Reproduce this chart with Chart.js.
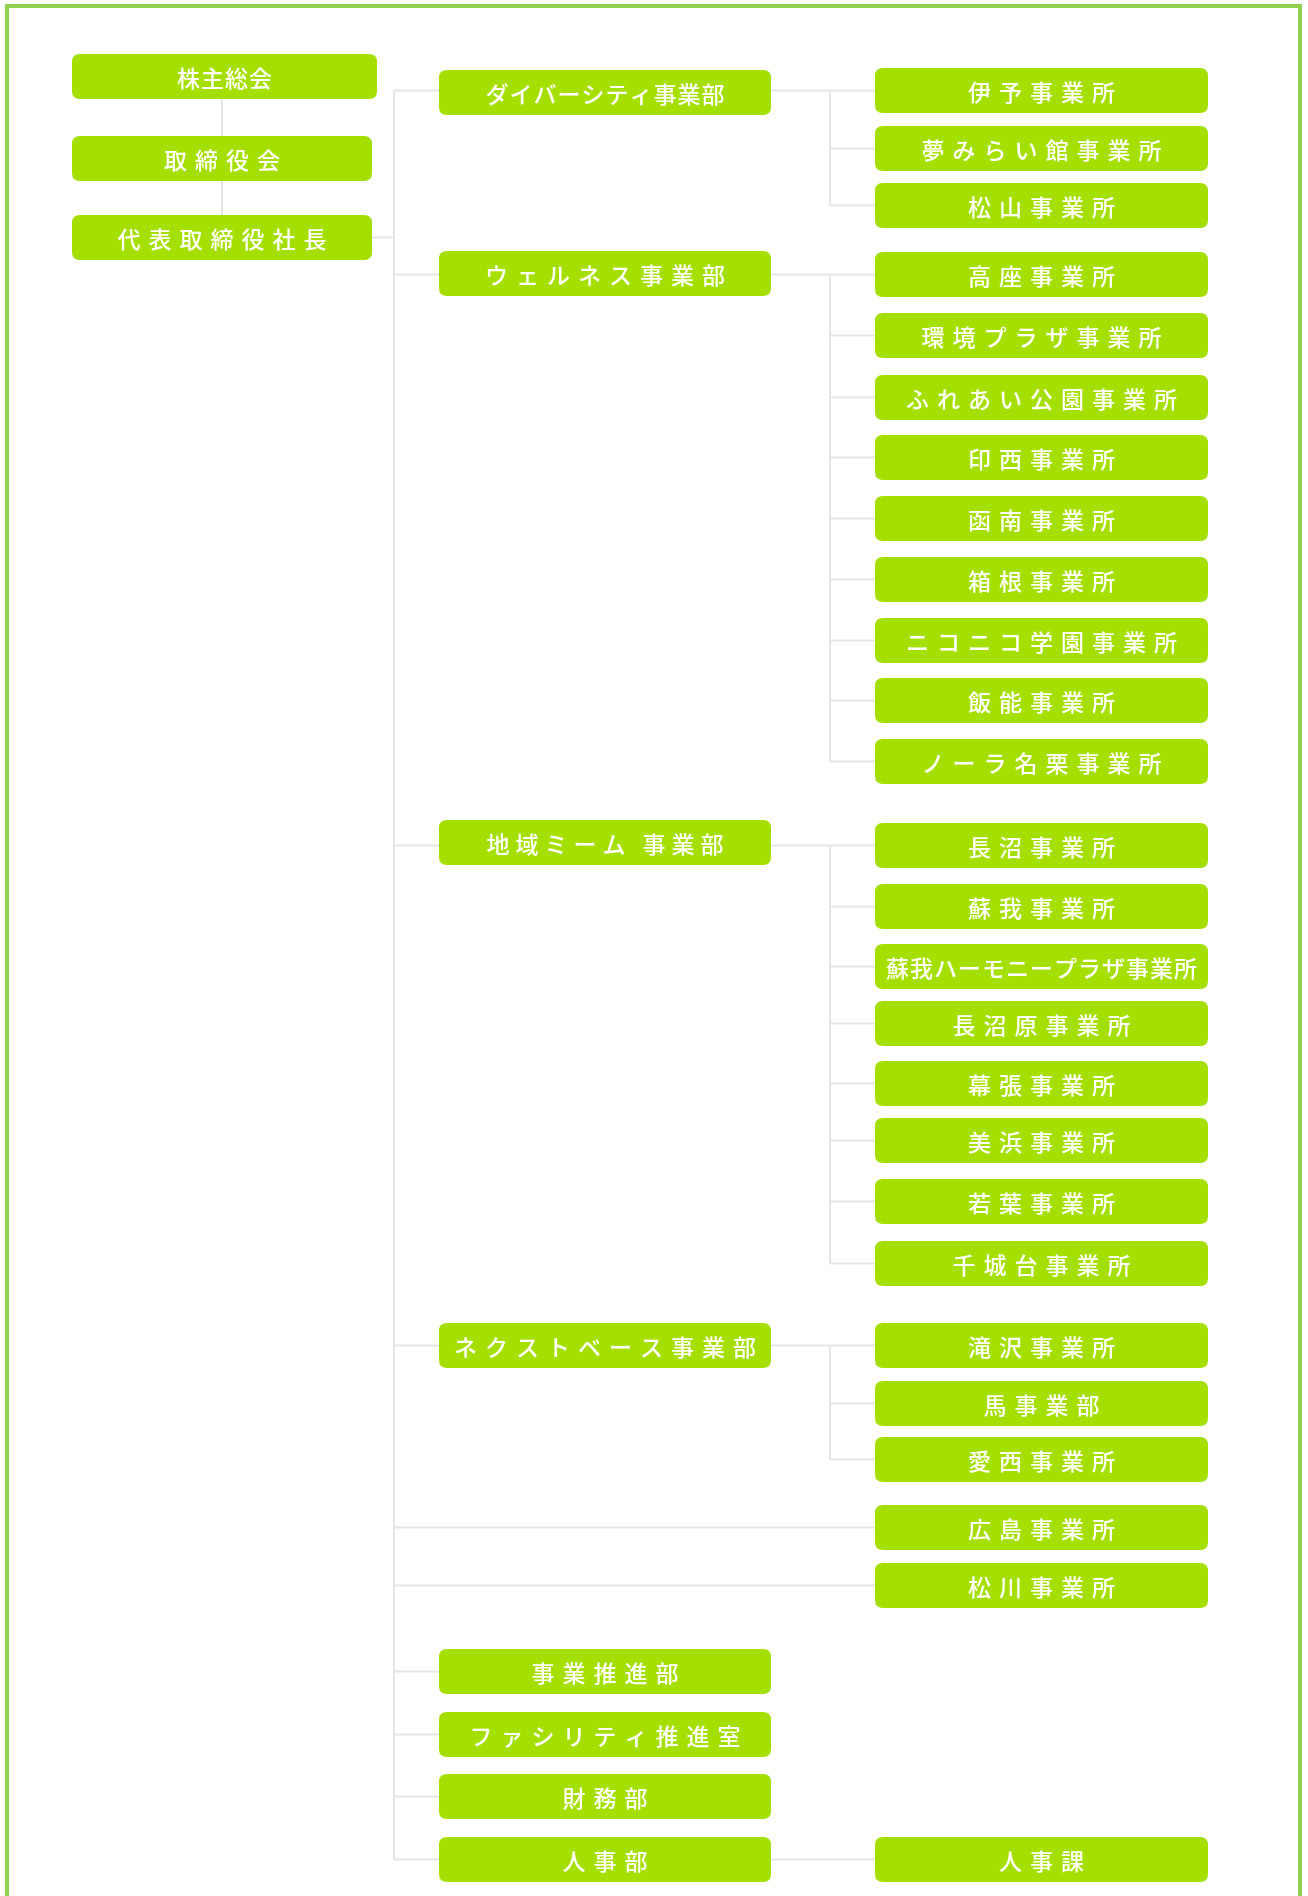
<!DOCTYPE html>
<html lang="ja">
<head>
<meta charset="utf-8">
<title>組織図</title>
<script src="https://cdn.jsdelivr.net/npm/chart.js@4.4.1/dist/chart.umd.min.js"></script>
<style>
  html, body { margin: 0; padding: 0; background: #fff; }
  #wrap { position: relative; width: 1308px; height: 1896px; }
</style>
</head>
<body>
<div id="wrap"><canvas id="org"></canvas></div>
<script>
// ===== 組織図データ
const headNames = ['株主総会', '取締役会', '代表取締役社長'];
const headTops = [54, 136, 215];

const deptNames = ['ダイバーシティ事業部', 'ウェルネス事業部', '地域ミーム 事業部', 'ネクストベース事業部',
  '事業推進部', 'ファシリティ推進室', '財務部', '人事部'];
const deptTops = [70, 251, 820, 1323, 1649, 1712, 1774, 1837];

const officeNames = [
  '伊予事業所', '夢みらい館事業所', '松山事業所',
  '高座事業所', '環境プラザ事業所', 'ふれあい公園事業所', '印西事業所', '函南事業所',
  '箱根事業所', 'ニコニコ学園事業所', '飯能事業所', 'ノーラ名栗事業所',
  '長沼事業所', '蘇我事業所', '蘇我ハーモニープラザ事業所', '長沼原事業所', '幕張事業所',
  '美浜事業所', '若葉事業所', '千城台事業所',
  '滝沢事業所', '馬事業部', '愛西事業所',
  '広島事業所', '松川事業所',
  '人事課'
];
const officeTops = [68, 126, 183, 252, 313, 375, 435, 496, 557, 618, 678, 739,
  823, 884, 944, 1001, 1061, 1118, 1179, 1241, 1323, 1381, 1437, 1505, 1563, 1837];
// 親の部署 (-1 = 社長直轄)
const officeParent = [0, 0, 0, 1, 1, 1, 1, 1, 1, 1, 1, 1, 2, 2, 2, 2, 2, 2, 2, 2, 3, 3, 3, -1, -1, 7];

// 字間を詰めて表示するラベル
const tightNames = ['株主総会', 'ダイバーシティ事業部', '蘇我ハーモニープラザ事業所'];

// ===== レイアウト
const W = 1308, H = 1896;
const BOX_H = 45;
const colLeft = [72, 439, 875];
const colRight = [372, 771, 1208];
const trunkX = 394;
const subX = 830;
const lineColor = '#e6e6e6';
const boxColor = '#a5df00';

function mid(top) { return top + BOX_H / 2; }

function seg(x1, y1, x2, y2) {
  return {
    type: 'line',
    data: [{x: x1, y: y1}, {x: x2, y: y2}],
    borderColor: lineColor,
    borderWidth: 2,
    pointRadius: 0,
    showLine: true,
    fill: false
  };
}

// 接続線
const links = [];
links.push(seg(222, headTops[0] + BOX_H, 222, headTops[2]));
links.push(seg(colRight[0], mid(headTops[2]), trunkX, mid(headTops[2])));

let trunkTop = null, trunkBottom = null;
deptNames.forEach((name, d) => {
  const kids = [];
  officeParent.forEach((p, i) => { if (p === d) kids.push(i); });
  const ly = kids.length ? mid(officeTops[kids[0]]) : mid(deptTops[d]);
  if (trunkTop === null) trunkTop = ly;
  trunkBottom = ly;
  links.push(seg(trunkX, ly, colLeft[1], ly));
  if (kids.length) {
    links.push(seg(colRight[1], ly, colLeft[2], ly));
    if (kids.length > 1) {
      const last = mid(officeTops[kids[kids.length - 1]]);
      links.push(seg(subX, ly, subX, last));
      kids.slice(1).forEach(i => {
        links.push(seg(subX, mid(officeTops[i]), colLeft[2], mid(officeTops[i])));
      });
    }
  }
});
officeParent.forEach((p, i) => {
  if (p === -1) links.push(seg(trunkX, mid(officeTops[i]), colLeft[2], mid(officeTops[i])));
});
links.push(seg(trunkX, trunkTop, trunkX, trunkBottom));

// 箱
const boxes = [];
headNames.forEach((n, i) => boxes.push({name: n, col: 0, top: headTops[i], right: i === 0 ? 377 : colRight[0]}));
deptNames.forEach((n, i) => boxes.push({name: n, col: 1, top: deptTops[i], right: colRight[1]}));
officeNames.forEach((n, i) => boxes.push({name: n, col: 2, top: officeTops[i], right: colRight[2]}));

function roundRect(ctx, x, y, w, h, r) {
  ctx.beginPath();
  ctx.moveTo(x + r, y);
  ctx.lineTo(x + w - r, y);
  ctx.quadraticCurveTo(x + w, y, x + w, y + r);
  ctx.lineTo(x + w, y + h - r);
  ctx.quadraticCurveTo(x + w, y + h, x + w - r, y + h);
  ctx.lineTo(x + r, y + h);
  ctx.quadraticCurveTo(x, y + h, x, y + h - r);
  ctx.lineTo(x, y + r);
  ctx.quadraticCurveTo(x, y, x + r, y);
  ctx.closePath();
}

function spacedText(ctx, text, cx, cy, spacing) {
  const chars = Array.from(text);
  const widths = chars.map(c => ctx.measureText(c).width);
  const total = widths.reduce((a, b) => a + b, 0) + spacing * (chars.length - 1);
  let x = cx - total / 2;
  chars.forEach((c, i) => {
    ctx.fillText(c, x, cy);
    x += widths[i] + spacing;
  });
}

const orgPlugin = {
  id: 'orgBoxes',
  beforeDatasetsDraw(chart) {
    const ctx = chart.ctx;
    const xs = chart.scales.x, ys = chart.scales.y;
    // 外枠
    ctx.save();
    ctx.strokeStyle = '#92d050';
    ctx.lineWidth = 4;
    ctx.beginPath();
    ctx.moveTo(xs.getPixelForValue(7), ys.getPixelForValue(H));
    ctx.lineTo(xs.getPixelForValue(7), ys.getPixelForValue(6));
    ctx.lineTo(xs.getPixelForValue(1300), ys.getPixelForValue(6));
    ctx.lineTo(xs.getPixelForValue(1300), ys.getPixelForValue(H));
    ctx.stroke();
    ctx.restore();
  },
  afterDatasetsDraw(chart) {
    const ctx = chart.ctx;
    const xs = chart.scales.x, ys = chart.scales.y;
    ctx.save();
    boxes.forEach(b => {
      const x0 = xs.getPixelForValue(colLeft[b.col]);
      const x1 = xs.getPixelForValue(b.right);
      const y0 = ys.getPixelForValue(b.top);
      const y1 = ys.getPixelForValue(b.top + BOX_H);
      ctx.fillStyle = boxColor;
      roundRect(ctx, x0, y0, x1 - x0, y1 - y0, 8);
      ctx.fill();
      ctx.fillStyle = '#ffffff';
      ctx.font = '500 23px "Noto Sans CJK JP", "Noto Sans", sans-serif';
      ctx.textBaseline = 'middle';
      ctx.textAlign = 'left';
      let sp = 8;
      if (tightNames.includes(b.name)) sp = 1;
      if (b.name.includes(' ')) sp = 6;
      spacedText(ctx, b.name, (x0 + x1) / 2, (y0 + y1) / 2 + 2, sp);
    });
    ctx.restore();
  }
};

new Chart(document.getElementById('org').getContext('2d'), {
  type: 'scatter',
  data: { datasets: links },
  options: {
    responsive: true,
    maintainAspectRatio: false,
    animation: false,
    events: [],
    layout: { padding: 0 },
    plugins: { legend: { display: false }, tooltip: { enabled: false } },
    scales: {
      x: { type: 'linear', min: 0, max: W, display: false },
      y: { type: 'linear', min: 0, max: H, reverse: true, display: false }
    }
  },
  plugins: [orgPlugin]
});
</script>
</body>
</html>
